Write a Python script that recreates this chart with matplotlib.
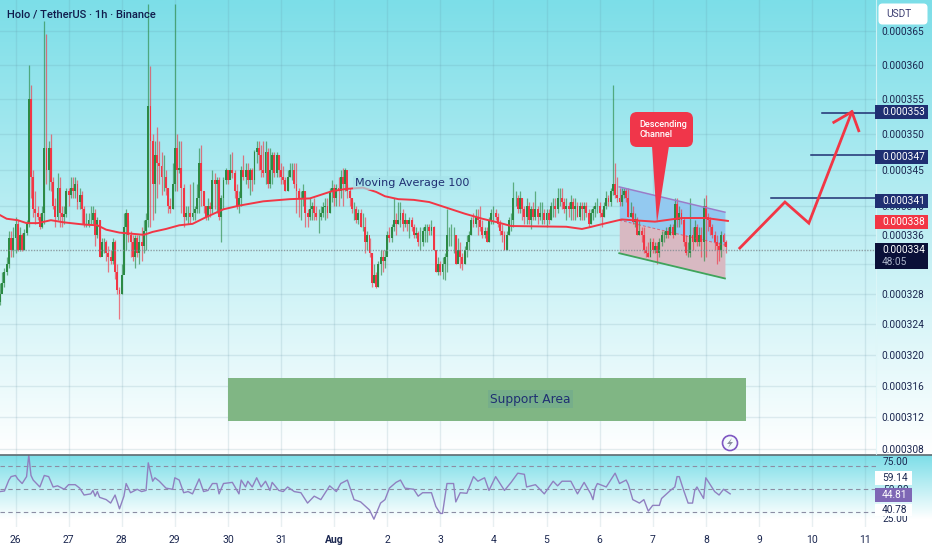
import numpy as np
import matplotlib
matplotlib.use("Agg")
import matplotlib.pyplot as plt
from matplotlib.patches import FancyBboxPatch, Polygon, Circle, Rectangle

plt.rcParams['font.family'] = ['Roboto', 'DejaVu Sans']

# prices are in millionths of USDT, one value per hour
closes = [328,329.5,331,332,335.5,334,335.5,337.5,334,336,
          334,336.3,337.5,355,344,339.5,339,338.5,337,339,
          348,345,348,343.3,340,338.5,342.5,339,338.5,338.8,
          342,341.5,342.5,342,343,340.5,341.5,339.5,337.5,337.5,
          338,338,339,336,338,333,335,335,333.5,333,
          332.5,335,331,328.5,328,330.5,337,339,336,335,
          333,335.5,333.5,335,334.5,336.5,338,354,349,343,
          347,346,345.5,344,344,342.5,340,339.5,343,348,
          345,345.2,342.5,338.5,339,339,338.5,339,339.5,341,
          346,342,340,338.5,340,339.5,343.5,343,343.5,338.5,
          341,343.5,345,343.5,345,344.5,342,340,341,345,
          344,345,343.5,345,343.5,347.5,348,347,345,344.5,
          347.5,343,345,347,344.5,347,345,344,343.5,342,
          344,345,345,343,342,341,341,342,339,338.5,
          339.5,340,339,338.5,338.5,339,339.8,340,339,342,
          342.5,341,342.5,342,344,343,345,342,341,339.5,
          339.5,338,339,337,337,335,336,333.5,329.5,330.5,
          329,332,333,332.5,333,336,335.5,337,338,337.5,
          338,339,337.5,338,337.5,338,337,336,336.2,335,
          335,336.5,337,337,336.5,337,334,331,332,331,
          332,333,336,336,336,336,332,334,333,332,
          334,335,336,338,337.5,338.5,338,337,336,336.5,
          335,338,339,339,338.5,337.5,336.5,336,334,336,
          338,338,341,341,339.5,341,339.5,338.5,340,338,
          339.5,338.5,339.5,338.5,339,339,338,339,338,340,
          340,339.5,341,341,340.5,339.5,340,339.5,340.5,339.5,
          340,338.5,340,339.5,340,339,337.5,339,339.5,340,
          340,339,338.5,340,341,340.5,342,343,341.5,341,
          340.5,341.5,342,341,338.5,339,337.8,338.2,336,336.5,
          336,334,333.5,333,335,334,334.5,333.5,335,336,
          336,336.5,336,337,336,340.2,338,339,338,335,
          333.5,333.5,336,335,337,335,336,335,340,338.5,
          338,337,336,335,334.5,334,336,335,334.3]
highs = [329.5,331,331.5,333,336.5,336.5,337,338.5,338,337,
         336.2,336.8,338,360,357,345,342,340,339,340,
         366.5,364.5,349,350,344,341,344.5,344,340,340,
         342.5,342.5,344,344,344,343.5,342.5,342,340,339,
         339,340,340,339.5,338.5,338,335.5,335.5,335.3,334.5,
         334,335.5,335.3,332,329,332,339,339.5,338,336.5,
         336,336,336,336,337,338,339,369,359.8,350,
         349,351,349,347.5,347,345,342.5,341,346,369,
         350,349,349,343,340,340,343,343.3,340,343,
         348,348.5,342,340,341,340.5,345,344.5,344,344,
         341.5,344,345.2,345,347.2,347.5,345,343,342,345.5,
         347,346,346,345.2,345.2,347.8,349,349,348.5,349,
         349,348,348,347.5,347.5,347.5,347,346,345.5,344,
         345,346,346,346,346,342.5,342,343,342,339.5,
         341,340.5,341,340,339.5,340,340.5,341,341,342.5,
         343.5,343,343,344,345,345.2,345.2,343,342.5,341,
         340.5,340,339.5,339.5,339,338.5,336.5,335.5,333.5,332,
         331,332.5,334,334,334,336.5,337,337.5,341,339,
         340.5,340.5,339.5,339,338,338.5,338.5,337.5,337,336.5,
         337,337,337.5,337.5,337.5,338,337.2,334,333,332.5,
         333,333.5,339.5,337,337.5,337,336,335.5,335,333.5,
         334.5,336,336.5,338.5,339,339.5,339.5,340,338,337,
         337,338.5,339.5,340,339.5,339,338,337.5,336.5,336.5,
         338.5,339,343.3,342,341.5,342,341,340,341,340.5,
         340,340.5,342,340,340.5,340.5,339.5,339.5,339.5,340.5,
         341,341,342.5,342.5,342.5,341,341,340.5,341.5,341,
         341,340.5,340.5,340.5,340.5,340.5,339.5,339.5,340,340.5,
         341,340.5,339.5,340.5,342,341.5,342.5,357,346,344,
         342.5,342.5,342.5,342.5,342.5,340.5,340,339,338.5,338,
         337,337,334.5,335,335.5,335.5,335,335,335.5,336.5,
         336.5,337,337,337.5,337.5,341,341,340,339.5,338.5,
         336,335,341,337,338,337.5,337,337,341,341.5,
         339,338.5,337.5,336.5,336,335,336.5,336.2,335.3]
lows = [326.5,328.5,329,330.5,331.5,333,333,333.5,333.8,333.8,
        333.8,334,336,337,341,338.5,337.5,338,336.8,336.9,
        337.5,343,342.2,342,339.5,337,338,337,337,337.5,
        338.5,340,341,341,341,339.5,339.5,337.5,337,337,
        337,337.5,337.5,334.5,335.5,333,333.5,333.5,332.5,331,
        332,332,330,328,324.7,328,331,334,335,333,
        332.5,331.5,333,332,332.5,333.5,334,337,337,338,
        339,341,343,341.5,342,341.5,339,339,339.5,342,
        342,344.5,339,337,338,337.5,337.5,338,338,339,
        339,340,339,338,338,338.5,339,339.5,339,338,
        335,339.5,343,343,344,343.8,341,339.5,339,340,
        343.5,343,342.5,341.5,342,343,346,345,344,344,
        343,342.5,342.5,343,344,344,344,343,343,342,
        342,344,343.5,342.5,339,338.5,338,340,337,337,
        338,338,338,338,336.2,338,338.5,338,338.3,339,
        340.5,340,340,340,341,340,342,341,340,339,
        338,337.6,337.5,337,336.5,333.5,334,333,329,329.5,
        328.8,329,330.5,331,331.5,333.5,335,335,336.5,336,
        337.5,337,336.5,337,336.5,335.5,336.5,335.5,335.5,334.5,
        334,334.5,335,335,336,336,334,331,330.5,330.5,
        330,329.9,331,334.5,334.5,333.5,332,332.5,331.5,331.2,
        332,333,334,336,337,337,336,336.5,335.5,335.5,
        335,335,337.5,337.5,338,337,336,335,334,334,
        336,336.5,337,340,339,339,338,337.5,337.5,337.5,
        336.8,338,338,337.5,338,337.5,337.5,337,337.5,338,
        338.5,338.5,339,340,339.5,339,338,338.5,338,338,
        338,338.5,338,338,338,338.5,337,337.5,338,338.5,
        339,338.5,337,338.5,339.5,340,340,341.5,341,340.5,
        340,340,341,340.5,338.5,338.5,337.5,337,336,336,
        335,333.5,333,333,333,333.5,333.5,332,333,334.5,
        335,335.5,335.5,336,335.5,336,337,337,337.5,334.5,
        333.3,333,333,334,335,334.5,334.5,333,332.5,333,
        336.5,336,335.5,334,332,332.5,333,334.5,333.5]

ma_hours = [0,3,8,12,17,23,29,38,44,48,54,65,69,75,81,87,93,101,108,119,131,140,
            150,156,164,170,174,180,187,194,203,210,218,225,231,256,263,266,274,281,296,308,319,329]
ma_values = [338.7,338.2,338,337.6,337.6,338,337.7,337.4,337.3,336.7,336.3,336,336.4,336.8,337.3,337.5,338.4,339.5,340,340.6,340.9,341,
             342,342.3,342.5,341.9,341.3,340.9,340.8,340.5,339.6,338.9,338.2,337.7,337.2,337.1,336.8,337,337.6,338.1,337.8,338.3,338.3,337.9]

rsi_hours = [0,2,4,5,7,8,10,12,13,14,15,17,18,20,22,24,26,29,31,34,36,38,41,42,43,44,45,48,50,52,54,56,57,59,62,64,66,67,69,70,
             72,75,78,79,81,83,85,87,90,92,94,96,98,99,101,105,108,109,111,112,114,116,118,120,122,123,126,128,130,133,136,139,142,145,147,149,152,154,157,160,
             163,167,169,172,174,176,179,181,183,187,189,191,195,197,199,200,202,205,206,208,211,214,216,219,221,224,228,231,234,237,238,242,246,250,252,254,258,261,264,267,
             268,269,270,274,278,280,283,284,286,289,291,293,295,298,299,303,305,306,307,309,311,313,314,315,318,319,323,325,327,330]
rsi_values = [48,48.5,58,61,62,59,55,61,80,62,58,54,52,62,61,52,53,50,54,54,51,45,46,49,44,48,43,41,38,45,33,44,55,47,50,48,49,73,57,60,
              57,51,50,60,58,47,48,46,59,48,49,55,55,46,55,56,46,58,52,57,52,60,52,57,49,56,49,48,52,48,47,38,44,41,47,53,48,55,58,41,
              39,32,24,38,41,51,56,58,51,50,44,47,47,35,29,29,55,55,39,47,46.5,61,57,60,49,61,49,56,64,63,52,54,46,57,53,57,57,46,56,46,
              41,51,55,52,64,55,58,54,41,38,41,31,36,36,42,49,52,61,61,49,38,38,49,52,42,60,48,45,50,46]

day_labels = ['26','27','28','29','30','31','Aug','2','3','4','5','6','7','8','9','10','11']
price_ticks = [365,360,355,350,345,340,336,332,328,324,320,316,312,308]
rsi_levels = [70,50,30]

channel_days = [11.37,13.36]
channel_top = [342.6,339.1]
channel_mid = [338,334.6]
channel_bottom = [333.5,330.1]

support_days = [4.0,13.76]
support_prices = [311.5,317]

target_prices = [341,347,353]
target_start = [14.23,14.98,15.19]
arrow_days = [13.64,14.49,14.94,15.75]
arrow_prices = [334.2,340.5,337.6,353.2]
head_days = [15.41,15.75,15.88]
head_prices = [351.7,353.2,350.5]

GREEN = '#2c8a45'
RED = '#f23645'
NAVY = '#1f2f72'
TEXT = '#1b2750'
W, H = 932, 550

def to_x(hours):
    return (np.asarray(hours, dtype=float) - 7) / 24

fig = plt.figure(figsize=(W / 100, H / 100), dpi=100, facecolor='white')

# background gradients
bg = fig.add_axes([0, 0, 1, 1], zorder=0)
bg.axis('off')
cyan = np.array([0x7c, 0xde, 0xe8]) / 255
grad = np.linspace(0, 1, 256)[:, None, None]
img = cyan * (1 - grad) + 1 * grad
bg.imshow(img, extent=[0, W, 454, 0], aspect='auto', zorder=0)
bg.imshow(img, extent=[0, W, 519, 455], aspect='auto', zorder=0)
bg.set_xlim(0, W)
bg.set_ylim(H, 0)

# main pane
ax = fig.add_axes([0, 1 - 454 / H, 876 / W, 454 / H], zorder=1)
ax.patch.set_alpha(0)
ax.set_yscale('log')
ax.set_xlim(-0.292, 16.205)
ax.set_ylim(307.4, 369.6)
ax.yaxis.tick_right()
ax.set_yticks(price_ticks)
# 332 sits fully behind the countdown tag in the reference
ax.set_yticklabels(['' if p == 332 else f'0.000{p}' for p in price_ticks], fontsize=7.3, color=TEXT)
ax.minorticks_off()
ax.set_xticks(range(len(day_labels)))
ax.tick_params(axis='x', length=0, labelbottom=False)
ax.tick_params(axis='y', length=0, pad=4.2)
ax.grid(True, color='#5f8ea0', alpha=0.16, lw=1)
ax.set_axisbelow(True)
for s in ax.spines.values():
    s.set_visible(False)

closes_arr = np.array(closes, dtype=float)
opens = np.r_[closes_arr[0] - 1, closes_arr[:-1]]
x = to_x(np.arange(len(closes)))
colors = [GREEN if c >= o else RED for o, c in zip(opens, closes_arr)]

ax.fill_between(channel_days, channel_mid, channel_top, color='#93c9f0', lw=0, zorder=1.5)
ax.fill_between(channel_days, channel_bottom, channel_mid, color='#d8b9c2', lw=0, zorder=1.5)
ax.vlines(x, lows, highs, colors=colors, lw=0.9, alpha=0.65, zorder=2)
ax.bar(x, np.abs(closes_arr - opens), bottom=np.minimum(opens, closes_arr), width=0.036,
       color=colors, lw=0, zorder=2.2)
ax.plot(channel_days, channel_top, color='#9a7cc9', lw=1.1, zorder=3)
ax.plot(channel_days, channel_mid, color=RED, lw=0.7, ls=(0, (3, 2)), alpha=0.7, zorder=3)
ax.plot(channel_days, channel_bottom, color='#3fa45b', lw=1.3, zorder=3)
ax.plot(to_x(ma_hours), ma_values, color=RED, lw=1.4, zorder=4, solid_joinstyle='round')
ax.axhline(334, color='#7f8a90', lw=1, ls=(0, (1, 1)), alpha=0.8, zorder=3)

ax.fill_between(support_days, support_prices[0], support_prices[1], color='#80b684', lw=0, zorder=3)
for p, start in zip(target_prices, target_start):
    ax.plot([start, 16.205], [p, p], color=NAVY, lw=1.1, zorder=4)
ax.plot(arrow_days, arrow_prices, color=RED, lw=2, zorder=5, solid_joinstyle='miter')
ax.plot(head_days, head_prices, color=RED, lw=2, zorder=5, solid_joinstyle='miter')

# rsi pane
rsi = fig.add_axes([0, 23 / H, 876 / W, 72 / H], zorder=1)
rsi.patch.set_alpha(0)
rsi.set_xlim(-0.292, 16.205)
rsi.set_ylim(17.2, 79.8)
rsi.set_xticks(range(len(day_labels)))
rsi.set_xticklabels(day_labels, fontsize=7.5, color=TEXT)
rsi.get_xticklabels()[6].set_fontweight('bold')
rsi.tick_params(axis='x', length=0, pad=5.5)
rsi.yaxis.tick_right()
rsi.set_yticks([75, 50, 25])
rsi.set_yticklabels(['75.00', '50.00', '25.00'], fontsize=7.3, color=TEXT)
rsi.tick_params(axis='y', length=0, pad=5)
rsi.grid(True, axis='x', color='#5f8ea0', alpha=0.14, lw=1)
rsi.set_axisbelow(True)
for s in rsi.spines.values():
    s.set_visible(False)
for lev in rsi_levels:
    rsi.axhline(lev, color='#8b8da3', lw=0.8, ls=(0, (4, 3)))
rsi.plot(to_x(rsi_hours), rsi_values, color='#9080c0', lw=1, clip_on=True)

# overlay for price tags and drawing labels, in pixels
top = fig.add_axes([0, 0, 1, 1], zorder=5)
top.set_xlim(0, W)
top.set_ylim(H, 0)
top.axis('off')
top.patch.set_alpha(0)

top.plot([0, W], [454.5, 454.5], color='#5e6a70', lw=1.2)
top.plot([876, 876], [0, 454], color='#dff6f8', lw=0.8, alpha=0.8)

def tag(y0, y1, color, text, fc='white', x0=875, x1=928, size=7.3):
    top.add_patch(Rectangle((x0, y0), x1 - x0, y1 - y0, fc=color, ec='none', zorder=6))
    top.text(x0 + 7, (y0 + y1) / 2, text, color=fc, fontsize=size, va='center', ha='left', zorder=7)

tag(105, 119, NAVY, '0.000353')
tag(150, 164, NAVY, '0.000347')
tag(194, 208, NAVY, '0.000341')
tag(215, 229, RED, '0.000338')
top.add_patch(Rectangle((875, 243), 53, 26, fc='#0a1038', ec='none', zorder=6))
top.text(882, 250, '0.000334', color='white', fontsize=7.3, va='center', zorder=7)
top.text(882, 262, '48:05', color='#aab3c8', fontsize=7.3, va='center', zorder=7)

top.add_patch(FancyBboxPatch((881, 6), 44, 16, boxstyle='round,pad=2.5,rounding_size=4', fc='white', ec='none', zorder=6))
top.text(886, 14, 'USDT', color='#3c3f72', fontsize=7.3, va='center', zorder=7)

tag(471, 485, 'white', '59.14', fc=TEXT, x1=912, x0=875)
tag(488, 502, '#7e67b5', '44.81', x1=912, x0=875)
tag(504, 516, 'white', '40.78', fc=TEXT, x1=912, x0=875)

top.text(7, 14, 'Holo / TetherUS · 1h · Binance', fontsize=8, fontweight='medium', color='#101c4c', va='center')

top.text(412, 183, 'Moving Average 100', fontsize=8, color=NAVY, va='center', ha='center', family='DejaVu Sans',
         bbox=dict(fc='#a6e2ea', ec='none', alpha=0.7, pad=1.5))
top.text(530.5, 399, 'Support Area', fontsize=8.8, color=NAVY, va='center', ha='center', family='DejaVu Sans',
         bbox=dict(fc='#74ad8c', ec='none', alpha=0.8, pad=1.5))

top.add_patch(FancyBboxPatch((636, 118), 51, 23, boxstyle='round,pad=6,rounding_size=7', fc='#f0364a', ec='none', zorder=6))
top.add_patch(Polygon([[652, 146], [669, 146], [657, 223]], closed=True, fc='#f0364a', ec='none', zorder=6))
top.text(639, 129.5, 'Descending\nChannel', color='white', fontsize=6.6, va='center', ha='left', linespacing=1.05,
         fontweight='medium', zorder=7)

top.add_patch(Circle((730, 443), 7.5, fc='#f4fbfc', ec='#7e57c2', lw=1.2, zorder=6))
top.add_patch(Polygon([[732, 438], [727, 444], [730, 444], [728, 448], [733, 442], [730, 442]], closed=True,
                      fc='#8a8f9e', ec='none', zorder=7))

fig.savefig('out.png', dpi=100)
